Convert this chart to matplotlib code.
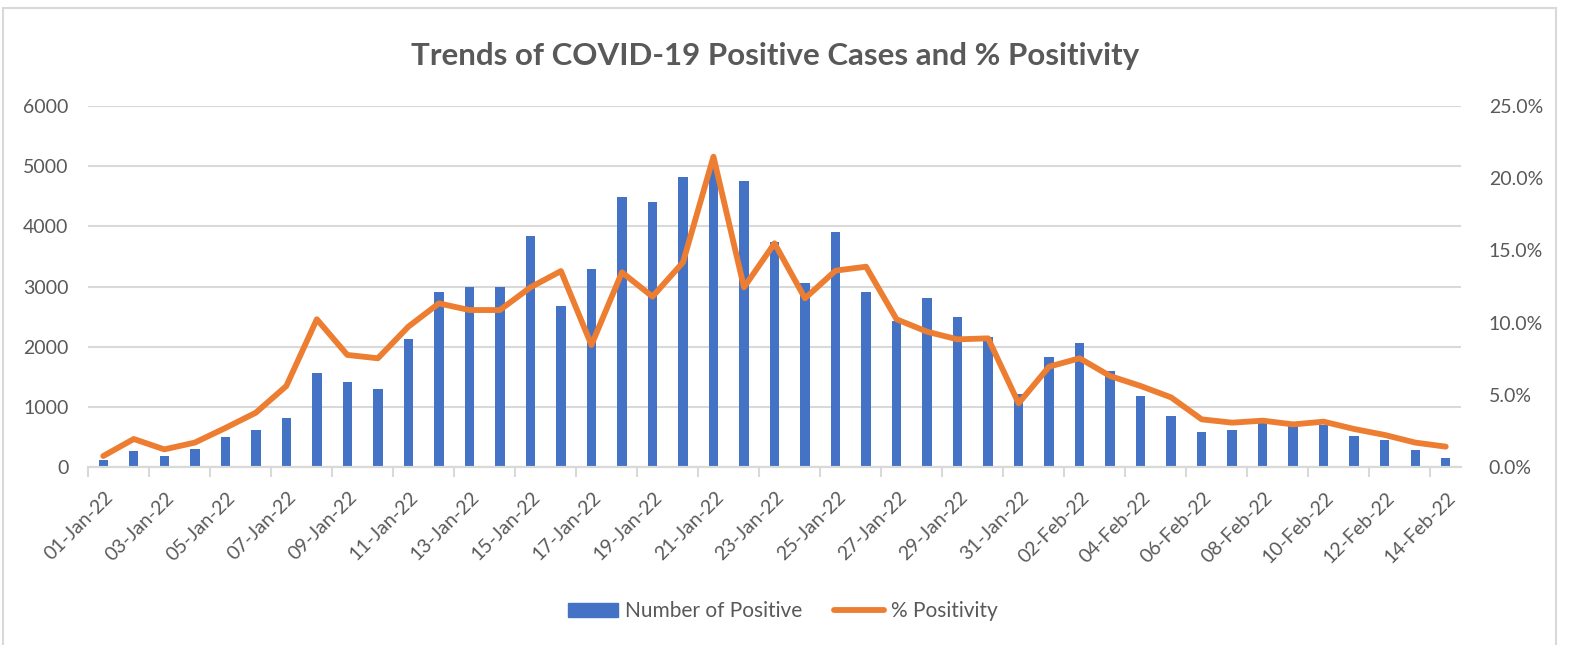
import matplotlib
matplotlib.use("Agg")
import matplotlib.pyplot as plt
import matplotlib.transforms as mtransforms
from matplotlib.patches import Patch, Rectangle
from matplotlib.lines import Line2D
from matplotlib.ticker import FuncFormatter

plt.rcParams['font.family'] = ['Lato', 'DejaVu Sans']

dates = ['01-Jan-22', '02-Jan-22', '03-Jan-22', '04-Jan-22', '05-Jan-22', '06-Jan-22',
         '07-Jan-22', '08-Jan-22', '09-Jan-22', '10-Jan-22', '11-Jan-22', '12-Jan-22',
         '13-Jan-22', '14-Jan-22', '15-Jan-22', '16-Jan-22', '17-Jan-22', '18-Jan-22',
         '19-Jan-22', '20-Jan-22', '21-Jan-22', '22-Jan-22', '23-Jan-22', '24-Jan-22',
         '25-Jan-22', '26-Jan-22', '27-Jan-22', '28-Jan-22', '29-Jan-22', '30-Jan-22',
         '31-Jan-22', '01-Feb-22', '02-Feb-22', '03-Feb-22', '04-Feb-22', '05-Feb-22',
         '06-Feb-22', '07-Feb-22', '08-Feb-22', '09-Feb-22', '10-Feb-22', '11-Feb-22',
         '12-Feb-22', '13-Feb-22', '14-Feb-22']

positives = [120, 266, 178, 305, 494, 616, 810, 1565, 1415, 1292,
             2135, 2912, 2995, 2995, 3838, 2679, 3289, 4487, 4398, 4820,
             4980, 4758, 3732, 3056, 3899, 2912, 2420, 2801, 2485, 2168,
             1205, 1836, 2069, 1603, 1187, 849, 575, 613, 740, 690,
             705, 512, 445, 280, 152]

# % positivity
positivity = [0.76, 1.94, 1.22, 1.69, 2.70, 3.76, 5.61, 10.23, 7.76, 7.53,
              9.72, 11.33, 10.87, 10.87, 12.44, 13.57, 8.45, 13.48, 11.80, 14.17,
              21.49, 12.44, 15.49, 11.68, 13.60, 13.87, 10.23, 9.37, 8.84, 8.91,
              4.41, 6.95, 7.53, 6.30, 5.61, 4.82, 3.30, 3.07, 3.21, 2.95,
              3.14, 2.63, 2.22, 1.69, 1.41]

blue = '#4472C4'
orange = '#ED7D31'
grey_txt = '#595959'
grid_c = '#D9D9D9'

fig = plt.figure(figsize=(15.8, 6.45), dpi=100)
ax = fig.add_axes([88/1580, 1-467/645, (1461-88)/1580, (467-106)/645])
ax2 = ax.twinx()

x = list(range(len(dates)))
ax.bar(x, positives, width=0.31, color=blue, zorder=2)
ax2.plot(x, [p/100 for p in positivity], color=orange, linewidth=4.2,
         solid_joinstyle='round', solid_capstyle='round', zorder=3)

ax.set_xlim(-0.5, len(dates)-0.5)
ax.set_ylim(0, 6000)
ax2.set_ylim(0, 0.25)
ax.set_yticks(range(0, 6001, 1000))
ax2.set_yticks([0, 0.05, 0.10, 0.15, 0.20, 0.25])
ax2.yaxis.set_major_formatter(FuncFormatter(lambda v, p: f'{v*100:.1f}%'))

ax.yaxis.grid(True, color=grid_c, linewidth=1.5, zorder=0)
ax.set_axisbelow(True)
for a in (ax, ax2):
    for s in ('top', 'left', 'right'):
        a.spines[s].set_visible(False)
    a.spines['bottom'].set_color(grid_c)
    a.spines['bottom'].set_linewidth(1.5)

ax.tick_params(axis='y', length=0, pad=14, labelsize=14, labelcolor=grey_txt)
ax2.tick_params(axis='y', length=0, pad=20, labelsize=14, labelcolor=grey_txt)
for lab in ax2.get_yticklabels():
    lab.set_horizontalalignment('left')

# tick marks between categories, labels every 2 days
ax.set_xticks([k - 0.5 for k in range(0, len(dates)+1, 2)])
ax.set_xticklabels([])
ax.tick_params(axis='x', which='major', length=7, width=1.5, color=grid_c)
ax.set_xticks(x[::2], minor=True)
ax.set_xticklabels(dates[::2], minor=True)
ax.tick_params(axis='x', which='minor', length=0, pad=20, labelsize=14, labelcolor=grey_txt)
offset = mtransforms.ScaledTranslation(7/100, 0, fig.dpi_scale_trans)
for lab in ax.get_xticklabels(minor=True):
    lab.set_rotation(45)
    lab.set_rotation_mode('anchor')
    lab.set_horizontalalignment('right')
    lab.set_verticalalignment('center')
    lab.set_transform(lab.get_transform() + offset)

fig.text(0.4905, 1-56/645, 'Trends of COVID-19 Positive Cases and % Positivity',
         ha='center', va='center', fontsize=22.5, fontweight='bold', color=grey_txt)

handles = [Patch(facecolor=blue, edgecolor=blue),
           Line2D([0], [0], color=orange, linewidth=4.2, solid_capstyle='round')]
fig.legend(handles, ['Number of Positive', '% Positivity'], loc='center',
           bbox_to_anchor=(783/1580, 1-611/645), ncol=2, frameon=False,
           fontsize=15, labelcolor=grey_txt, handlelength=2.4,
           handletextpad=0.35, columnspacing=1.5, handleheight=0.65)

fig.patches.append(Rectangle((3/1580, -0.05), (1556-3)/1580, 1.05-8/645,
                             transform=fig.transFigure, fill=False,
                             edgecolor=grid_c, linewidth=1.5))

fig.savefig('out.png', dpi=100)
